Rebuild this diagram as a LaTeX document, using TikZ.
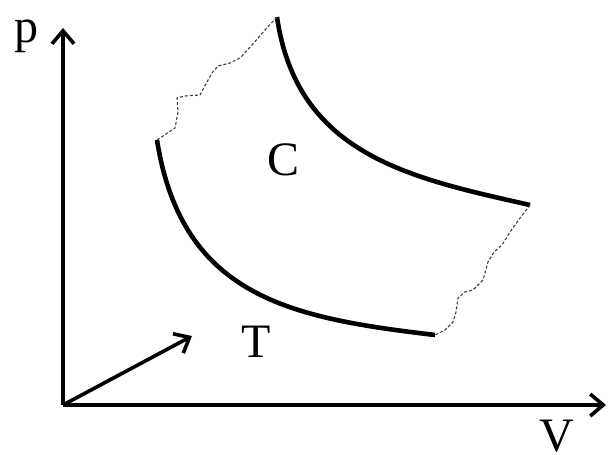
\documentclass[tikz,border=0pt]{standalone}
\usepackage{fontspec}
\setmainfont{Liberation Serif}
\usetikzlibrary{arrows.meta,positioning}

\begin{document}
\begin{tikzpicture}[
  x=1pt, y=-1pt,
  axis/.style={line width=3.6pt, -{Straight Barb[length=13pt, width=22pt, line width=3.6pt]}},
  iso/.style={line width=4.6pt},
  link/.style={dash pattern=on 3pt off 2pt, line width=1.1pt, gray!50!black},
  lbl/.style={font=\fontsize{48}{50}\selectfont, inner sep=0pt}
]
\useasboundingbox (0,0) rectangle (608,455);
% axes
\coordinate (O) at (63,405);
\coordinate (ptop) at (63,28);
\coordinate (vend) at (606,405);
\coordinate (tend) at (192,336);
\draw[axis] (O) -- (ptop);
\draw[axis] (O) -- (vend);
\draw[axis] (O) -- (tend);
\node[lbl] (p) at (26,36) {p};
\node[lbl] (V) at (557,436) {V};
\node[lbl] (T) at (256,342) {T};
\node[lbl] (C) at (284,160) {C};
% isotherms
\coordinate (a) at (277,17);
\coordinate (b) at (530,205);
\coordinate (c) at (435,335);
\coordinate (d) at (157,140);
\draw[iso] (a) .. controls (297,155) and (410,178) .. (b);
\draw[iso] (d) .. controls (182,298) and (292,318) .. (c);
% irregular edges
\draw[link] (d) -- (175,128) -- (178,112) -- (177,98) -- (185,96) -- (200,95)
  -- (207,82) -- (212,73) -- (218,66) -- (230,63) -- (240,58) -- (252,45) -- (265,30) -- (a);
\draw[link] (b) -- (520,218) -- (510,232) -- (502,245) -- (494,252) -- (488,262)
  -- (483,280) -- (473,290) -- (465,292) -- (458,298) -- (456,312) -- (453,322) -- (445,330) -- (c);
\end{tikzpicture}
\end{document}
